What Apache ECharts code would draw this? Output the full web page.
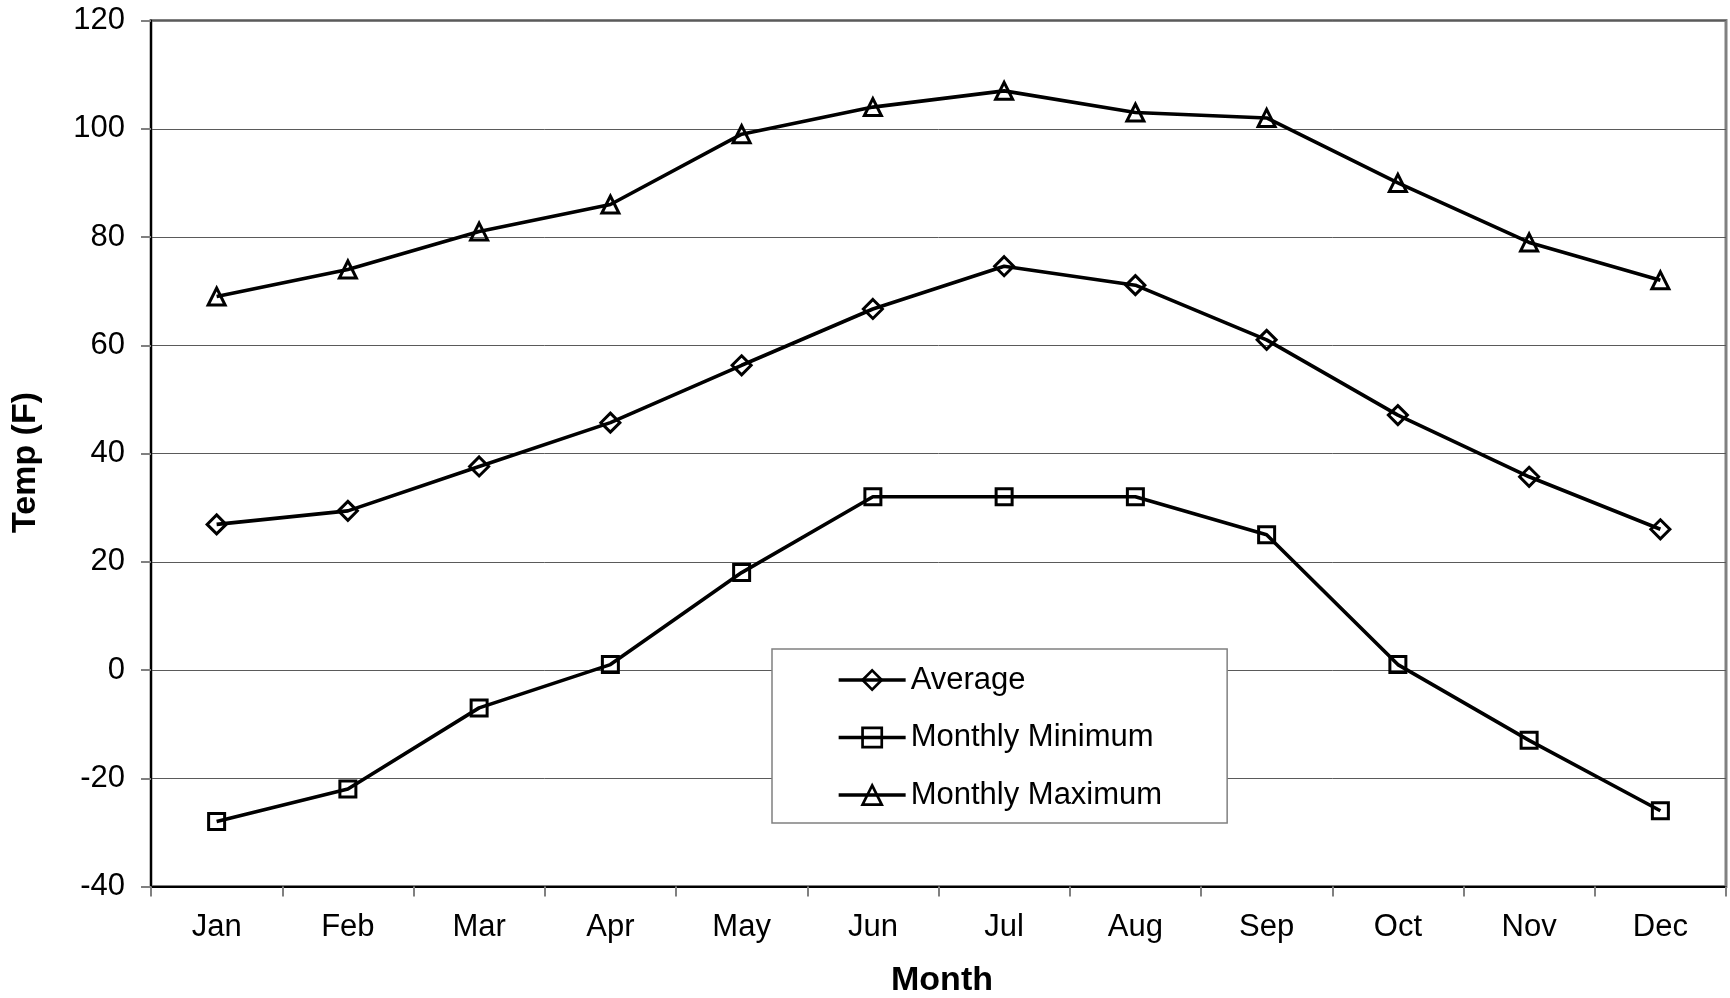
<!DOCTYPE html>
<html>
<head>
<meta charset="utf-8">
<script src="https://cdn.jsdelivr.net/npm/echarts@6/dist/echarts.min.js"></script>
<style>
html,body{margin:0;padding:0;background:#fff;}
#chart{width:1730px;height:998px;}
</style>
</head>
<body>
<div id="chart"></div>
<script>
const months = ['Jan','Feb','Mar','Apr','May','Jun','Jul','Aug','Sep','Oct','Nov','Dec'];
const averageTemp = [26.9, 29.4, 37.6, 45.7, 56.3, 66.7, 74.6, 71.1, 61.0, 47.1, 35.7, 26.0];
const monthlyMin = [-28, -22, -7, 1, 18, 32, 32, 32, 25, 1, -13, -26];
const monthlyMax = [69, 74, 81, 86, 99, 104, 107, 103, 102, 90, 79, 72];
const yTicks = { min: -40, max: 120, interval: 20 };

const FONT = "'Liberation Sans', Arial, sans-serif";
const FS = 31;
const FT = 34;
const chart = echarts.init(document.getElementById('chart'), null, {renderer: 'canvas'});

function mkSeries(name, data, symbol, size) {
  return {
    name: name,
    type: 'line',
    data: data,
    symbol: symbol,
    symbolSize: size,
    showAllSymbol: true,
    lineStyle: {color: '#000', width: 3.6},
    itemStyle: {color: 'rgba(0,0,0,0)', borderColor: '#000', borderWidth: 3},
    emphasis: {disabled: true},
    animation: false,
    z: 3
  };
}

chart.setOption({
  animation: false,
  backgroundColor: '#fff',
  textStyle: {fontFamily: FONT},
  grid: {
    left: 151, right: 4, top: 20.5, bottom: 111.5,
    outerBoundsMode: 'none',
    containLabel: false,
    show: true, borderColor: '#808080', borderWidth: 3, backgroundColor: 'transparent'
  },
  legend: {
    orient: 'vertical',
    left: 772, top: 649,
    padding: [15, 65, 12, 65],
    itemWidth: 67, itemHeight: 24, itemGap: 25.5,
    itemTextGap: 8,
    backgroundColor: '#fff',
    borderColor: '#808080', borderWidth: 1.5,
    lineStyle: {color: '#000', width: 3.3},
    itemStyle: {color: 'rgba(0,0,0,0)', borderColor: '#000', borderWidth: 2.7},
    textStyle: {fontFamily: FONT, fontSize: FS, color: '#000', lineHeight: 32},
    data: ['Average', 'Monthly Minimum', 'Monthly Maximum']
  },
  xAxis: {
    type: 'category',
    data: months,
    boundaryGap: true,
    name: 'Month',
    nameLocation: 'middle',
    nameGap: 77,
    nameTextStyle: {fontFamily: FONT, fontSize: FT, fontWeight: 'bold', color: '#000', padding: [0, 0, 0, 7]},
    axisLine: {show: true, onZero: false, lineStyle: {color: '#000', width: 2}},
    axisTick: {show: true, length: 10, lineStyle: {color: '#808080', width: 2}},
    axisLabel: {fontFamily: FONT, fontSize: FS, color: '#000', margin: 25, interval: 0},
    splitLine: {show: false}
  },
  yAxis: {
    type: 'value',
    min: yTicks.min, max: yTicks.max, interval: yTicks.interval,
    name: 'Temp (F)',
    nameLocation: 'middle',
    nameGap: 108,
    nameRotate: 90,
    nameTextStyle: {fontFamily: FONT, fontSize: FT, fontWeight: 'bold', color: '#000', padding: [0, 18, 0, 0]},
    axisLine: {show: true, onZero: false, lineStyle: {color: '#000', width: 2}},
    axisTick: {show: true, length: 10, lineStyle: {color: '#808080', width: 2}},
    axisLabel: {fontFamily: FONT, fontSize: FS, color: '#000', margin: 26},
    splitLine: {show: true, lineStyle: {color: '#5a5a5a', width: 1}}
  },
  series: [
    mkSeries('Average', averageTemp, 'diamond', 19),
    mkSeries('Monthly Minimum', monthlyMin, 'rect', 16),
    mkSeries('Monthly Maximum', monthlyMax, 'triangle', 17)
  ]
});
</script>
</body>
</html>
